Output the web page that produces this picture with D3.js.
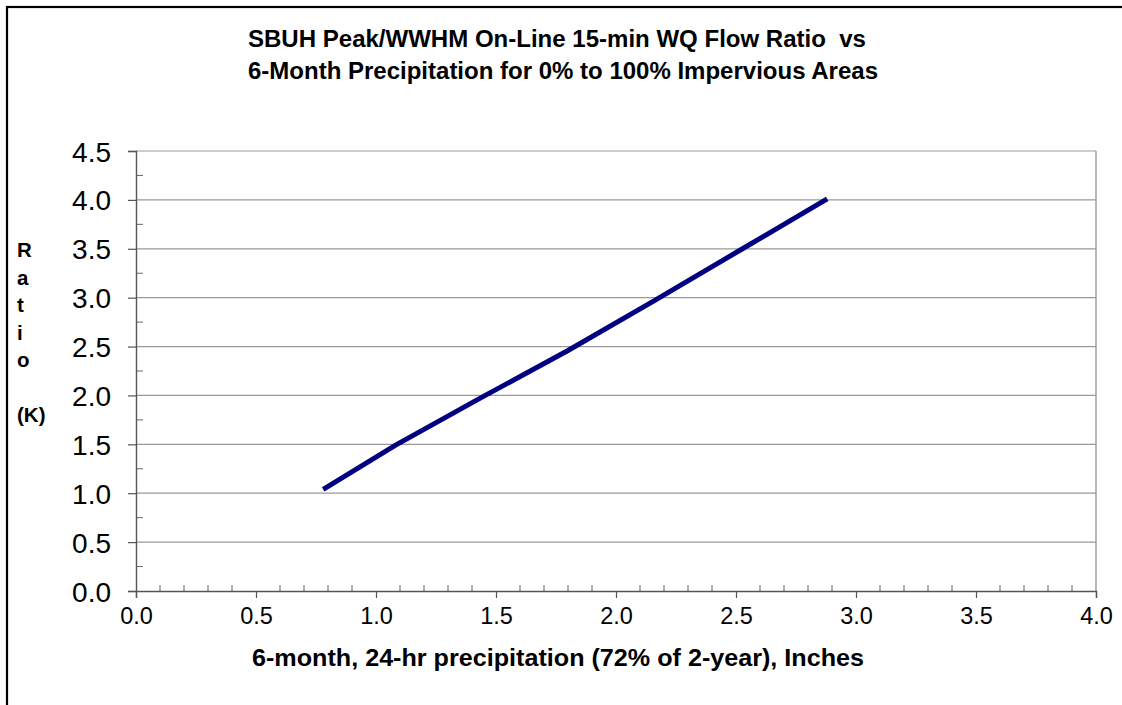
<!DOCTYPE html>
<html><head><meta charset="utf-8">
<script src="https://cdn.jsdelivr.net/npm/d3@7"></script>
<style>html,body{margin:0;padding:0;background:#fff;}svg{display:block;font-family:"Liberation Sans",Arial,sans-serif;}text{white-space:pre;}</style>
</head><body>
<svg id="chart" width="1122" height="705"></svg>
<script>
const precip = [0.78, 1.08, 1.44, 1.80, 2.16, 2.52, 2.88];
const ratio  = [1.04, 1.49, 1.98, 2.46, 2.97, 3.49, 4.01];
const xTicks = [0.0, 0.5, 1.0, 1.5, 2.0, 2.5, 3.0, 3.5, 4.0];
const yTicks = [0.0, 0.5, 1.0, 1.5, 2.0, 2.5, 3.0, 3.5, 4.0, 4.5];
const titleLines = ["SBUH Peak/WWHM On-Line 15-min WQ Flow Ratio  vs", "6-Month Precipitation for 0% to 100% Impervious Areas"];
const xTitle = "6-month, 24-hr precipitation (72% of 2-year), Inches";
const yTitleLines = ["R", "a", "t", "i", "o", "", "(K)"];

const svg = d3.select("#chart");
const L = 136, R = 1096, T = 151, B = 591;
const x = d3.scaleLinear().domain([0, 4]).range([L, R]);
const y = d3.scaleLinear().domain([0, 4.5]).range([B, T]);

// outer frame
svg.append("rect").attr("x", 7).attr("y", 7).attr("width", 1130).attr("height", 720)
  .attr("fill", "none").attr("stroke", "#000").attr("stroke-width", 2.2);

// gridlines
svg.append("g").selectAll("line").data(yTicks.filter(d => d > 0)).join("line")
  .attr("x1", L).attr("x2", R).attr("y1", d => y(d)).attr("y2", d => y(d))
  .attr("stroke", "#999").attr("stroke-width", 1.2);
// plot border right
svg.append("line").attr("x1", R).attr("x2", R).attr("y1", T).attr("y2", B)
  .attr("stroke", "#999").attr("stroke-width", 1.4);

// minor ticks y (inside)
const yMinor = d3.range(0.25, 4.5, 0.5);
svg.append("g").selectAll("line").data(yMinor).join("line")
  .attr("x1", L).attr("x2", L + 7).attr("y1", d => y(d)).attr("y2", d => y(d))
  .attr("stroke", "#666").attr("stroke-width", 1);
// minor ticks x (inside)
const xMinor = d3.range(1, 40).map(i => i / 10).filter(v => Math.abs(v * 2 - Math.round(v * 2)) > 1e-6);
svg.append("g").selectAll("line").data(xMinor).join("line")
  .attr("x1", d => x(d)).attr("x2", d => x(d)).attr("y1", B).attr("y2", B - 6)
  .attr("stroke", "#666").attr("stroke-width", 1);

// axes
const yAxis = d3.axisLeft(y).tickValues(yTicks).tickFormat(d3.format(".1f")).tickSize(8).tickPadding(17);
const gy = svg.append("g").attr("transform", `translate(${L},0)`).call(yAxis);
gy.select(".domain").attr("stroke", "#555").attr("stroke-width", 1.4);
gy.selectAll(".tick line").attr("stroke", "#555").attr("stroke-width", 1.2);
gy.selectAll(".tick text").attr("font-size", 28).attr("fill", "#000")
  .attr("font-family", "Liberation Sans, Arial, sans-serif").attr("dy", "0.36em");

const xAxis = d3.axisBottom(x).tickValues(xTicks).tickFormat(d3.format(".1f")).tickSize(7).tickPadding(9);
const gx = svg.append("g").attr("transform", `translate(0,${B})`).call(xAxis);
gx.select(".domain").attr("stroke", "#555").attr("stroke-width", 1.4);
gx.selectAll(".tick line").attr("stroke", "#555").attr("stroke-width", 1.2);
gx.selectAll(".tick text").attr("font-size", 23.5).attr("fill", "#000")
  .attr("font-family", "Liberation Sans, Arial, sans-serif");

// data line
const line = d3.line().x((d, i) => x(precip[i])).y(d => y(d));
svg.append("path").datum(ratio).attr("d", line)
  .attr("fill", "none").attr("stroke", "#000080").attr("stroke-width", 5);

// title
const titleWidths = [618, 630];
svg.append("g").selectAll("text").data(titleLines).join("text")
  .attr("x", (d, i) => 248 + titleWidths[i] / 2).attr("y", (d, i) => 47 + i * 31.5)
  .attr("text-anchor", "middle").attr("font-weight", "bold").attr("font-size", 23.5)
  .attr("textLength", (d, i) => titleWidths[i]).attr("lengthAdjust", "spacingAndGlyphs")
  .attr("fill", "#000").text(d => d);

// x title
svg.append("text").attr("x", 558).attr("y", 666).attr("text-anchor", "middle")
  .attr("font-weight", "bold").attr("font-size", 24).attr("fill", "#000")
  .attr("textLength", 612).attr("lengthAdjust", "spacingAndGlyphs").text(xTitle);

// y title stacked
svg.append("g").selectAll("text").data(yTitleLines).join("text")
  .attr("x", 17).attr("y", (d, i) => 257 + i * 27.5)
  .attr("font-weight", "bold").attr("font-size", 20.5).attr("fill", "#000").text(d => d);
</script>
</body></html>
